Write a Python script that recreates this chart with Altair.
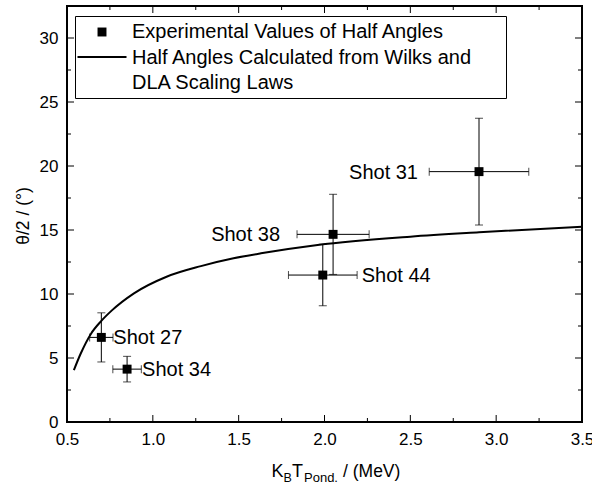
import altair as alt
import pandas as pd

# Measured divergence half angles, one entry per shot
shots = ["Shot 27", "Shot 34", "Shot 44", "Shot 38", "Shot 31"]
energy = [0.70, 0.85, 1.99, 2.05, 2.90]
energy_err = [0.068, 0.083, 0.20, 0.21, 0.29]
half_angle = [6.61, 4.13, 11.48, 14.66, 19.56]
half_angle_err = [1.92, 1.00, 2.40, 3.13, 4.17]

# Half angles from the Wilks and DLA scaling laws
curve_energy = [0.54, 0.58, 0.64, 0.70, 0.76, 0.89, 1.08, 1.28, 1.47, 1.63, 1.96, 2.50, 2.90, 3.50]
curve_angle = [4.05, 5.35, 6.90, 7.90, 8.70, 10.05, 11.35, 12.18, 12.79, 13.18, 13.83, 14.48, 14.82, 15.26]

# Axis ticks
x_major = [0.5, 1.0, 1.5, 2.0, 2.5, 3.0, 3.5]
x_minor = [0.75, 1.25, 1.75, 2.25, 2.75, 3.25]
y_major = [0, 5, 10, 15, 20, 25, 30]
y_minor = [2.5, 7.5, 12.5, 17.5, 22.5, 27.5]

legend_rows = [
    "Experimental Values of Half Angles",
    "Half Angles Calculated from Wilks and",
    "DLA Scaling Laws",
]

FONT = "Liberation Sans"
W, H = 515, 416

pts = pd.DataFrame({
    "shot": shots,
    "e": energy,
    "a": half_angle,
})
pts["e_lo"] = [v - d for v, d in zip(energy, energy_err)]
pts["e_hi"] = [v + d for v, d in zip(energy, energy_err)]
pts["a_lo"] = [v - d for v, d in zip(half_angle, half_angle_err)]
pts["a_hi"] = [v + d for v, d in zip(half_angle, half_angle_err)]

curve = pd.DataFrame({"e": curve_energy, "a": curve_angle})

xs = alt.Scale(domain=[0.5, 3.5], nice=False, zero=False)
ys = alt.Scale(domain=[0, 32.5], nice=False, zero=False)

x_axis = alt.Axis(values=x_major, format=".1f", title=None, ticks=False, domain=False,
                  grid=False, labelFont=FONT, labelFontSize=17, labelColor="black",
                  labelPadding=9, labelFlush=False, labelOverlap=False)
y_axis = alt.Axis(values=y_major, format="d", title=None, ticks=False, domain=False,
                  grid=False, labelFont=FONT, labelFontSize=17, labelColor="black",
                  labelPadding=9, labelFlush=False, labelOverlap=False)


def X(field):
    return alt.X(field, scale=xs, axis=x_axis)


def Y(field):
    return alt.Y(field, scale=ys, axis=y_axis)


base = alt.Chart(pts)
one = pd.DataFrame({"k": [0]})

# legend frame
legend_box = alt.Chart(one).mark_rect(fill="white", stroke="black", strokeWidth=1).encode(
    x=alt.value(8.5), x2=alt.value(439.5), y=alt.value(10.5), y2=alt.value(92.5)
)

line = alt.Chart(curve).mark_line(color="black", strokeWidth=2, interpolate="monotone").encode(
    x=X("e:Q"), y=Y("a:Q"),
)

v_err = base.mark_rule(color="black", strokeWidth=1).encode(
    x=X("e:Q"), y=Y("a_lo:Q"), y2="a_hi:Q",
)
h_err = base.mark_rule(color="black", strokeWidth=1).encode(
    y=Y("a:Q"), x=X("e_lo:Q"), x2="e_hi:Q",
)
caps = []
for col in ["a_lo", "a_hi"]:
    caps.append(base.mark_tick(color="black", orient="horizontal", size=8, thickness=1).encode(
        x=X("e:Q"), y=Y(f"{col}:Q"),
    ))
for col in ["e_lo", "e_hi"]:
    caps.append(base.mark_tick(color="black", orient="vertical", size=8, thickness=1).encode(
        x=X(f"{col}:Q"), y=Y("a:Q"),
    ))

squares = base.mark_square(color="black", size=80, opacity=1).encode(
    x=X("e:Q"), y=Y("a:Q"),
)

# per-shot label placement: (alignment, horizontal offset in px)
label_place = {
    "Shot 27": ("left", 12),
    "Shot 34": ("left", 15),
    "Shot 44": ("left", 39),
    "Shot 38": ("right", -53),
    "Shot 31": ("right", -61),
}
labels = []
for name, (al, dx) in label_place.items():
    labels.append(base.transform_filter(alt.datum.shot == name).mark_text(
        align=al, baseline="middle", dx=dx, dy=1, font=FONT, fontSize=20, color="black"
    ).encode(
        x=X("e:Q"), y=Y("a:Q"), text="shot:N",
    ))


# inward ticks on all four sides
def xticks(vals, length):
    d = alt.Chart(pd.DataFrame({"t": vals}))
    bottom = d.mark_rule(color="black", strokeWidth=1).encode(
        x=X("t:Q"), y=alt.value(H), y2=alt.value(H - length))
    top = d.mark_rule(color="black", strokeWidth=1).encode(
        x=X("t:Q"), y=alt.value(0), y2=alt.value(length))
    return [bottom, top]


def yticks(vals, length):
    d = alt.Chart(pd.DataFrame({"t": vals}))
    left = d.mark_rule(color="black", strokeWidth=1).encode(
        y=Y("t:Q"), x=alt.value(0), x2=alt.value(length))
    right = d.mark_rule(color="black", strokeWidth=1).encode(
        y=Y("t:Q"), x=alt.value(W), x2=alt.value(W - length))
    return [left, right]


tick_layers = xticks(x_major, 7) + xticks(x_minor, 4) + yticks(y_major, 7) + yticks(y_minor, 4)

# plot frame
frame = alt.Chart(one).mark_rect(fill=None, stroke="black", strokeWidth=2).encode(
    x=alt.value(0), x2=alt.value(W), y=alt.value(0), y2=alt.value(H)
)

# legend entries
leg_square = alt.Chart(one).mark_square(color="black", size=80, opacity=1).encode(
    x=alt.value(35), y=alt.value(26))
leg_line = alt.Chart(one).mark_rule(color="black", strokeWidth=2).encode(
    x=alt.value(10.5), x2=alt.value(59.5), y=alt.value(51))
leg_text = []
for i, row in enumerate(legend_rows):
    leg_text.append(alt.Chart(one).mark_text(
        align="left", baseline="middle", font=FONT, fontSize=20, color="black", text=row
    ).encode(x=alt.value(65), y=alt.value(26 + 25.5 * i)))


# axis titles with subscripts
def txt(s, x, y, size, angle=0, align="left", baseline="alphabetic"):
    return alt.Chart(one).mark_text(
        text=s, font=FONT, fontSize=size, color="black", align=align,
        baseline=baseline, angle=angle
    ).encode(x=alt.value(x), y=alt.value(y))


x_title = [
    txt("K", 204.5, 471, 18),
    txt("B", 216.5, 475.5, 12.5),
    txt("T", 225, 471, 18),
    txt("Pond.", 237, 475.5, 13),
    txt("/ (MeV)", 276, 471, 17.5),
]
y_title = txt("θ/2 / (°)", -43.5, 210, 17.5, angle=270, align="center", baseline="middle")

chart = alt.layer(
    legend_box, line, v_err, h_err, *caps, squares, *labels, *tick_layers, frame,
    leg_square, leg_line, *leg_text, *x_title, y_title
).properties(
    width=W, height=H,
    autosize=alt.AutoSizeParams(type="none"),
    padding={"left": 67, "top": 6, "right": 10, "bottom": 65},
).configure_view(stroke=None).configure(background="white")

chart.save("out.html", embed_options={"renderer": "svg", "actions": False})
